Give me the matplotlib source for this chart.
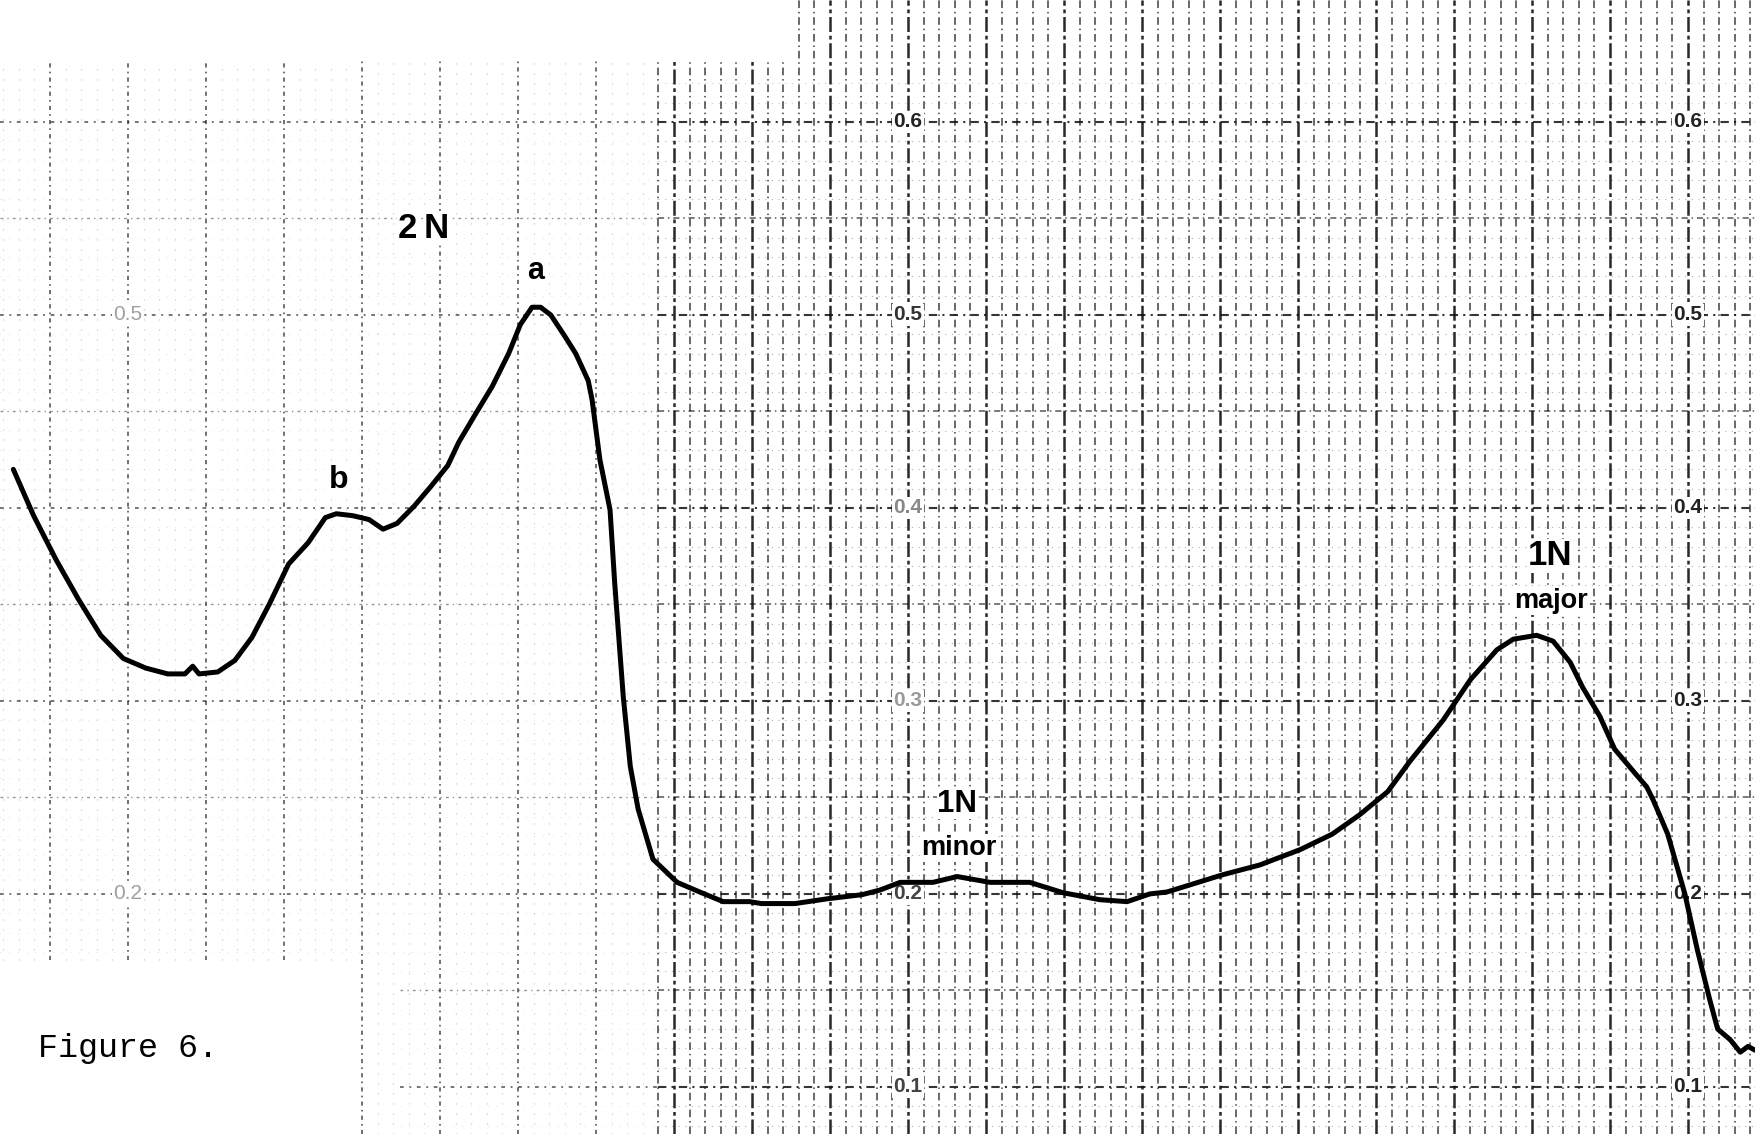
import numpy as np
import matplotlib
matplotlib.use("Agg")
import matplotlib.pyplot as plt

# Recorder trace: position along the chart (grid divisions) vs absorbance
trace_div = [-0.47, -0.21, 0.08, 0.36, 0.65, 0.94, 1.23, 1.51, 1.73, 1.83,
             1.91, 2.15, 2.37, 2.59, 2.81, 3.06, 3.31, 3.53, 3.67, 3.88,
             4.09, 4.27, 4.45, 4.67, 4.88, 5.10, 5.24, 5.46, 5.67, 5.88,
             6.03, 6.18, 6.29, 6.42, 6.60, 6.74, 6.90, 6.95, 7.05, 7.18,
             7.24, 7.35, 7.44, 7.54, 7.73, 8.04, 8.33, 8.63, 8.97, 9.12,
             9.55, 9.97, 10.41, 10.64, 10.90, 11.32, 11.63, 12.05, 12.56, 12.99,
             13.46, 13.81, 14.10, 14.32, 15.04, 15.51, 16.03, 16.44, 16.79, 17.15,
             17.44, 17.86, 18.21, 18.55, 18.76, 19.06, 19.27, 19.49, 19.65,
             19.87, 20.06, 20.29, 20.47, 20.55, 20.74, 20.96, 21.12, 21.28, 21.38,
             21.54, 21.67, 21.77, 21.86]
trace_abs = [0.420, 0.396, 0.373, 0.353, 0.334, 0.322, 0.317, 0.314, 0.314, 0.318,
             0.314, 0.315, 0.321, 0.333, 0.350, 0.371, 0.382, 0.395, 0.397, 0.396,
             0.394, 0.389, 0.392, 0.401, 0.411, 0.422, 0.434, 0.449, 0.463, 0.480,
             0.495, 0.504, 0.504, 0.500, 0.489, 0.480, 0.466, 0.456, 0.425, 0.399,
             0.361, 0.302, 0.266, 0.244, 0.218, 0.206, 0.201, 0.196, 0.196, 0.195,
             0.195, 0.1975, 0.1996, 0.202, 0.206, 0.206, 0.209, 0.206, 0.206, 0.2006,
             0.197, 0.196, 0.200, 0.201, 0.210, 0.215, 0.223, 0.231, 0.241, 0.253,
             0.269, 0.290, 0.311, 0.3265, 0.332, 0.334, 0.331, 0.320, 0.307,
             0.292, 0.275, 0.264, 0.2555, 0.249, 0.231, 0.200, 0.171, 0.145, 0.130,
             0.1245, 0.118, 0.121, 0.119]

# Printed absorbance scale on the chart paper
scale_values = [0.6, 0.5, 0.4, 0.3, 0.2, 0.1]
scale_labels = ["0.6", "0.5", "0.4", "0.3", "0.2", "0.1"]
scale_columns = [11, 21]
mid_label_colors = ["#222222", "#333333", "#888888", "#999999", "#444444", "#444444"]
faint_values = [0.5, 0.2]
faint_labels = ["0.5", "0.2"]
faint_column = 1

# Band annotations
band_texts = ["2", "N", "a", "b", "1N", "1N"]
band_pos = [(4.58, 0.545), (4.955, 0.545), (6.22, 0.523), (3.70, 0.4145),
            (11.63, 0.2467), (19.23, 0.3752)]
band_sizes = [25, 25, 22, 23, 22.5, 25]
sub_texts = ["minor", "major"]
sub_pos = [(11.65, 0.2203), (19.24, 0.3483)]

XMIN, XMAX = -0.641, 21.859
YMIN, YMAX = 0.0756, 0.6632
FADE_X = 7.8          # left of this the paper grid is faint
BLANK_X, BLANK_Y = 4.0, 0.166   # blank corner at lower left

fig = plt.figure(figsize=(17.55, 11.34), dpi=100)
ax = fig.add_axes([0, 0, 1, 1])
ax.set_xlim(XMIN, XMAX)
ax.set_ylim(YMIN, YMAX)
ax.axis("off")

ink = "#111111"

# vertical rulings: heavy every division, light every fifth of a division
for k in range(-3, 110):
    u = k / 5
    if u < XMIN or u > XMAX:
        continue
    major = (k % 5 == 0)
    top = YMAX if u >= 9.5 else 0.632
    bot = BLANK_Y if u < BLANK_X else YMIN
    dense = u >= FADE_X
    if major:
        if dense:
            lw, ls, alpha = 1.8, (0, (6, 1.5, 1.5, 1.5)), 0.9
        else:
            lw, ls, alpha = 1.2, (0, (2.5, 2.5, 1, 2.5)), 0.7
    else:
        if dense:
            lw, ls, alpha = 1.1, (0, (5, 2.5, 1, 2.5)), 0.8
        else:
            lw, ls, alpha = 0.8, (0, (1, 8)), 0.25
    ax.plot([u, u], [bot, top], color=ink, lw=lw, ls=ls, alpha=alpha, zorder=1)

# horizontal rulings: heavy every 0.1, medium every 0.05, light every 0.01
for j in range(8, 63):
    a = j / 100
    if a < YMIN or a > 0.62:
        continue
    left = BLANK_X + 0.49 if a < BLANK_Y else XMIN
    if j % 5 == 0:
        if j % 10 == 0:
            lw, al_r, al_l = 1.5, 0.85, 0.6
        else:
            lw, al_r, al_l = 1.1, 0.7, 0.45
        ax.plot([max(left, FADE_X), XMAX], [a, a], color=ink, lw=lw,
                ls=(0, (4, 2.5, 1, 2.5)), alpha=al_r, zorder=1)
        if left < FADE_X:
            ax.plot([left, FADE_X], [a, a], color=ink, lw=lw * 0.9,
                    ls=(0, (2, 3, 1, 3)), alpha=al_l, zorder=1)
    else:
        start = max(left, FADE_X)
        alpha = 0.22 if a > 0.6 else 0.32
        ax.plot([start, XMAX], [a, a], color=ink, lw=0.8, ls=(0, (1, 5)),
                alpha=alpha, zorder=1)
        if left < FADE_X and a <= 0.6:
            ax.plot([left, FADE_X], [a, a], color=ink, lw=0.7, ls=(0, (1, 8)),
                    alpha=0.12, zorder=1)

num_font = ["Liberation Sans Narrow", "Liberation Sans"]
for col in scale_columns:
    for i, (v, lab) in enumerate(zip(scale_values, scale_labels)):
        color = mid_label_colors[i] if col == scale_columns[0] else "#222222"
        ax.text(col, v, lab, ha="center", va="center", fontsize=15,
                fontweight="bold", family=num_font, color=color, zorder=2,
                bbox=dict(fc="white", ec="none", pad=1.0))
for v, lab in zip(faint_values, faint_labels):
    ax.text(faint_column, v, lab, ha="center", va="center", fontsize=15,
            family=num_font, color="#a0a0a0", zorder=2,
            bbox=dict(fc="white", ec="none", pad=1.0))

# the recorded spectrum
ax.plot(trace_div, trace_abs, color="black", lw=3.6, solid_joinstyle="round",
        solid_capstyle="round", zorder=3)

for txt, (x, y), fs in zip(band_texts, band_pos, band_sizes):
    ax.text(x, y, txt, ha="center", va="center", fontsize=fs, fontweight="bold",
            family="Liberation Sans", color="black", zorder=4,
            bbox=dict(fc="white", ec="none", pad=0.5))
for txt, (x, y) in zip(sub_texts, sub_pos):
    ax.text(x, y, txt, ha="center", va="baseline", fontsize=19.5, fontweight="bold",
            family="Liberation Sans", color="black", zorder=4,
            bbox=dict(fc="white", ec="none", pad=0.5))

fig.text(0.0217, 0.0679, "Figure 6.", family="Liberation Mono", fontsize=24,
         ha="left", va="baseline", color="black")

fig.savefig("out.png", dpi=100, facecolor="white")
